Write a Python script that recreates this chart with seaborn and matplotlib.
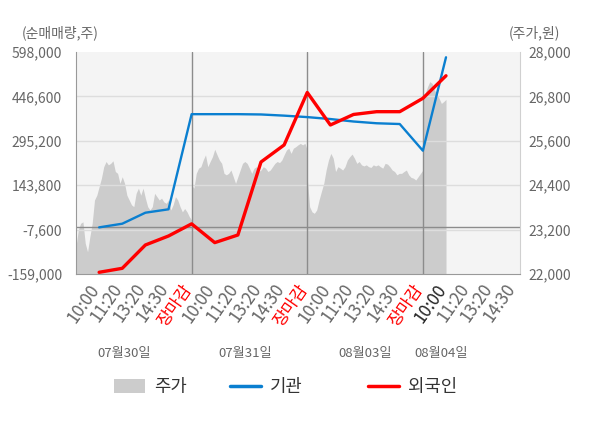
import numpy as np
import pandas as pd
import matplotlib
matplotlib.use("Agg")
import matplotlib.pyplot as plt
import matplotlib.transforms as mtrans
from matplotlib.patches import Patch
from matplotlib.lines import Line2D
import seaborn as sns

sns.set_style("white")
plt.rcParams['font.family'] = ['Noto Sans CJK KR', 'DejaVu Sans']

days = ['07월30일', '07월31일', '08월03일', '08월04일']
slots = ['10:00', '11:20', '13:20', '14:30', '장마감']

# 순매매량 (주) at each time slot, last one is 08/04 10:00
inst = [0, 12500, 50000, 61600, 386000,
        386000, 386000, 385000, 381000, 376000,
        369400, 361000, 355000, 352400, 261500,
        580000]
foreign = [-153200, -139600, -60100, -29400, 12000,
           -52000, -26000, 223000, 281000, 460000,
           349100, 385000, 394500, 394500, 440100,
           517000]

price_d1 = [22740, 23190, 23370, 23410, 22830, 22600, 23010, 23370, 24000, 24130,
            24360, 24590, 24900, 25040, 24950, 24990, 25060, 24770, 24720, 24450,
            24630, 24450, 24130, 24000, 23870, 23820, 24180, 24320, 24130, 24320,
            24050, 23820, 23730, 23820, 24180, 24090, 24000, 24050, 23950, 23910,
            24000, 23730, 23870, 24090, 24000, 23820, 23680, 23770, 23680, 23550,
            23460]
price_d2 = [24400, 24320, 24720, 24860, 24900, 25080, 25220, 24900, 25040, 25170,
            25370, 25220, 25080, 24990, 24720, 24680, 24720, 24810, 24630, 24450,
            24630, 24810, 24990, 25040, 24990, 24860, 24720, 24860, 24900, 24770,
            24810, 24900, 24860, 24770, 24810, 24900, 24990, 25040, 25010, 25080,
            25220, 25350, 25400, 25260, 25400, 25440, 25490, 25530, 25490, 25530,
            25350]
price_d3 = [24590, 23820, 23680, 23640, 23730, 24000, 24230, 24450, 24810, 25080,
            25260, 25130, 24770, 24900, 24860, 24810, 24900, 25080, 25170, 25240,
            25130, 24990, 25040, 24950, 24920, 24950, 24900, 24880, 24950, 24920,
            24950, 24900, 24860, 24990, 24970, 24900, 24810, 24770, 24680, 24720,
            24720, 24770, 24810, 24680, 24610, 24590, 24540, 24630, 24720, 24810]
price_d4 = [26790, 26880, 27060, 27200, 27150, 26970, 26880, 26750, 26610, 26660,
            26720]

# ---- build frames
slot_x, slot_lab = [], []
for d in range(len(days)):
    for k, s in enumerate(slots):
        slot_x.append(d + (k + 1) / len(slots))
        slot_lab.append(s)
n_pts = len(inst)
lines = pd.DataFrame({'x': slot_x[:n_pts], '기관': inst, '외국인': foreign})

px, py = [], []
step = 1 / (len(price_d1) - 1)
for d, vals in enumerate([price_d1, price_d2, price_d3]):
    px.extend(np.linspace(d, d + 1, len(vals)))
    py.extend(vals)
px.extend(3 + np.arange(len(price_d4)) * step)
py.extend(price_d4)
price = pd.DataFrame({'x': px, 'price': py})

blue = '#0a7fd0'
red = '#ff0000'
area = '#cccccc'

fig = plt.figure(figsize=(6, 4.28), dpi=100)
ax_p = fig.add_axes([76 / 600, 1 - 274 / 428, 444 / 600, 222 / 428])
ax_p.set_facecolor('#f4f4f4')
ax_n = ax_p.twinx()
ax_p.yaxis.set_ticks_position('right')
ax_n.yaxis.set_ticks_position('left')

ax_p.fill_between(price['x'], 22000, price['price'], color=area, lw=0)
ax_p.set_ylim(22000, 28000)
pt = np.arange(22000, 28001, 1200)
ax_p.set_yticks(pt)
ax_p.set_yticklabels([f'{v:,}' for v in pt])

nt = [-159000 + i * 151400 for i in range(6)]
ax_n.set_ylim(nt[0], nt[-1])
ax_n.set_yticks(nt)
ax_n.set_yticklabels([f'{v:,}' for v in nt])
for v in nt[1:-1]:
    ax_n.axhline(v, color='#dddddd', lw=1, zorder=1)
ax_n.axhline(0, color='#8c8c8c', lw=1, zorder=1)
for d in range(1, len(days)):
    ax_n.axvline(d, color='#8c8c8c', lw=1, zorder=1)

sns.lineplot(data=lines, x='x', y='기관', ax=ax_n, color=blue, lw=1.7, zorder=3)
sns.lineplot(data=lines, x='x', y='외국인', ax=ax_n, color=red, lw=2.4, zorder=4)
ax_n.set_xlabel('')
ax_n.set_ylabel('')

ax_p.set_xlim(0, 3.84)
tick_x = slot_x[:len(slot_x) - 1]
tick_l = slot_lab[:len(slot_lab) - 1]
ax_p.set_xticks(tick_x)
ax_p.set_xticklabels(tick_l)
ax_p.set_xticks(range(len(days)), minor=True)
ax_p.tick_params(axis='x', which='major', length=0, pad=8.5, labelsize=12.2, labelcolor='#666666')
ax_p.tick_params(axis='x', which='minor', length=4, color='#999999')
shift = mtrans.ScaledTranslation(-3.5 / 100, 0, fig.dpi_scale_trans)
for i, t in enumerate(ax_p.get_xticklabels()):
    t.set_rotation(55)
    t.set_ha('right')
    t.set_va('center')
    t.set_rotation_mode('anchor')
    t.set_transform(t.get_transform() + shift)
    if tick_l[i] == '장마감':
        t.set_color(red)
    elif i == n_pts - 1:
        t.set_color('#222222')

ax_p.tick_params(axis='y', length=0, pad=6, labelsize=10, labelcolor='#666666')
ax_n.tick_params(axis='y', length=0, pad=10, labelsize=10, labelcolor='#666666')

for a in (ax_p, ax_n):
    a.spines['top'].set_visible(False)
for s in ('left', 'right', 'bottom'):
    ax_p.spines[s].set_visible(False)
ax_n.spines['left'].set_color('#999999')
ax_n.spines['bottom'].set_color('#999999')
ax_n.spines['right'].set_color('#d0d0d0')

trans = mtrans.blended_transform_factory(ax_p.transData, ax_p.transAxes)
date_x = [0.416, 1.463, 2.502, 3.156]
for x, lab in zip(date_x, days):
    ax_p.text(x, -0.36, lab, transform=trans, ha='center', va='center',
              fontsize=9.5, color='#666666')

fig.text(22 / 600, 1 - 33 / 428, '(순매매량,주)', ha='left', va='center',
         fontsize=10, color='#666666')
fig.text(509 / 600, 1 - 33 / 428, '(주가,원)', ha='left', va='center',
         fontsize=10, color='#666666')

# legend: three separate entries, each starting where the reference puts it
handles = [Patch(facecolor=area, edgecolor='none'),
           Line2D([], [], color=blue, lw=2.5),
           Line2D([], [], color=red, lw=2.5)]
leg_names = ['주가', '기관', '외국인']
leg_left = [114, 230, 368]
for h, name, x0 in zip(handles, leg_names, leg_left):
    leg = fig.legend([h], [name], loc='center left',
                     bbox_to_anchor=(x0 / 600, 1 - 387 / 428), frameon=False,
                     fontsize=12.8, handlelength=1.75, handleheight=0.8,
                     handletextpad=0.5, borderpad=0, borderaxespad=0)
    for t in leg.get_texts():
        t.set_color('#333333')

fig.savefig('out.png', dpi=100)
